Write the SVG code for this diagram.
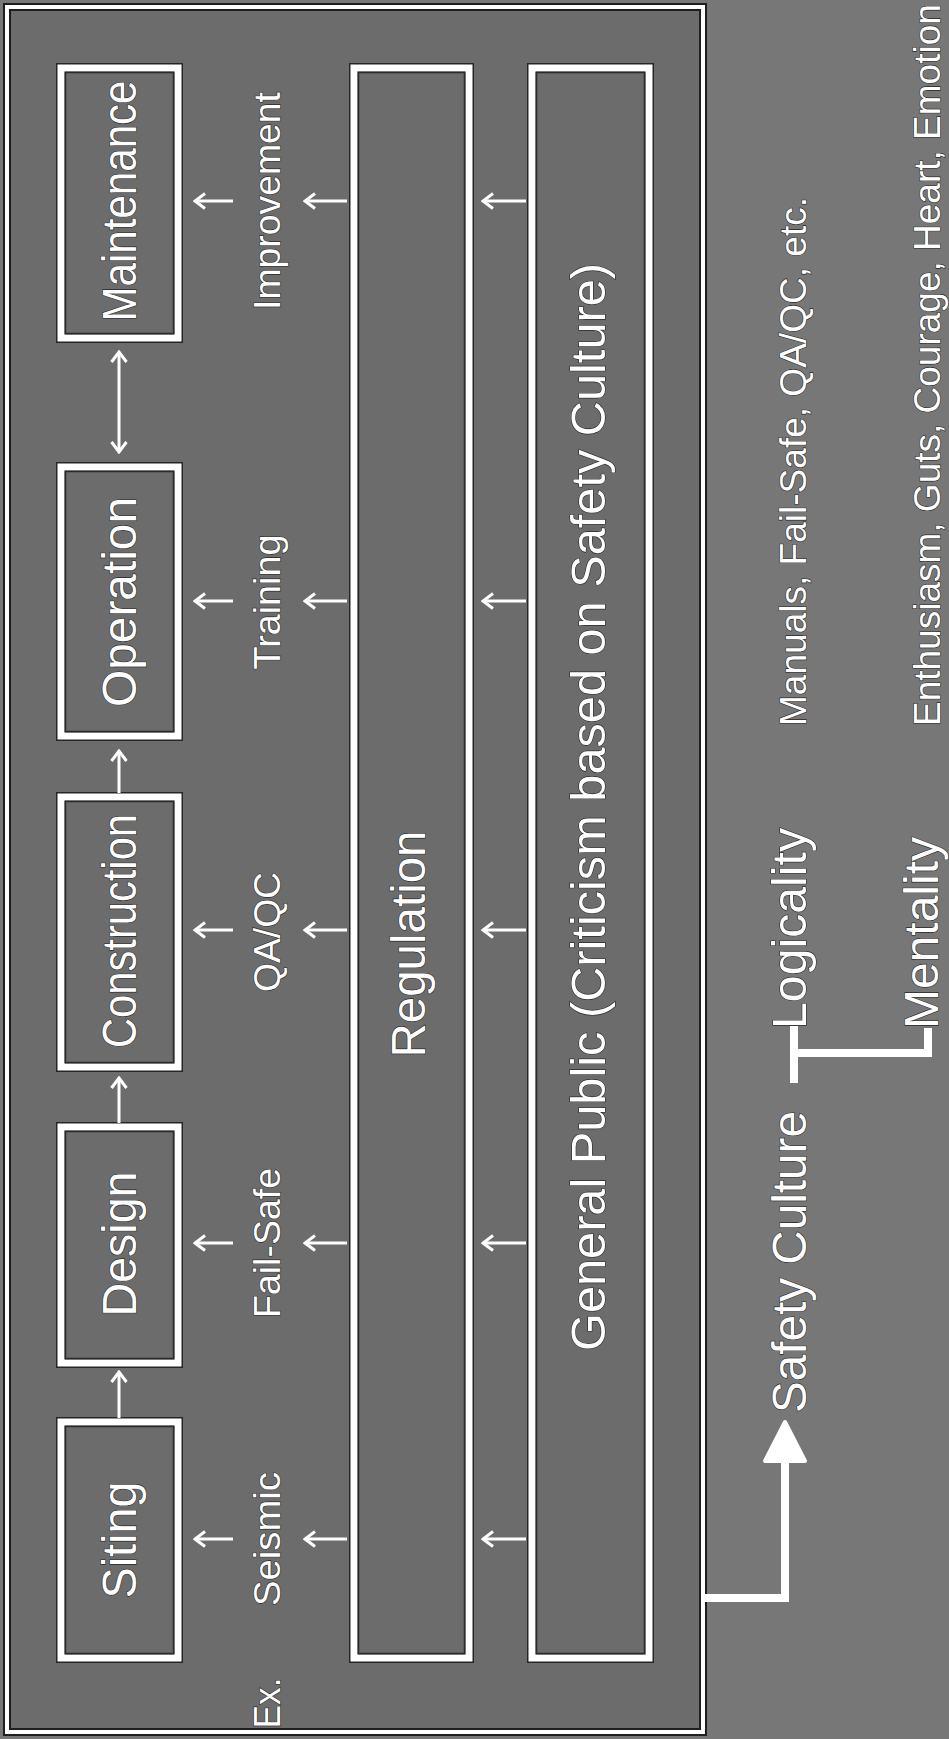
<svg xmlns="http://www.w3.org/2000/svg" width="949" height="1739" viewBox="0 0 949 1739">
<defs>
<style>
.bg{fill:#777777}
.panel{fill:#6c6c6c;stroke:#1e1e1e;stroke-width:8}
.panelw{fill:none;stroke:#ffffff;stroke-width:4}
.boxd{fill:#6c6c6c;stroke:#262626;stroke-width:10}
.boxw{fill:none;stroke:#ffffff;stroke-width:7}
.boxi{fill:none;stroke:#2a2a2a;stroke-width:1.5}
text{font-family:"Liberation Sans",Arial,Helvetica,sans-serif;fill:#ffffff;stroke:#2a2a2a;stroke-width:1.2;paint-order:stroke;text-anchor:middle}
.big{font-size:48px}
.lab{font-size:37.5px}
.rt{font-size:37px}
.arr{fill:none;stroke:#ffffff;stroke-width:3}
.thick{fill:none;stroke:#ffffff;stroke-width:8;stroke-linejoin:miter}
</style>
<marker id="ah" markerUnits="userSpaceOnUse" viewBox="0 0 14 18" markerWidth="14" markerHeight="18" refX="12" refY="9" orient="auto-start-reverse">
<path d="M2,1.5 L12,9 L2,16.5" fill="none" stroke="#ffffff" stroke-width="3"/>
</marker>
</defs>
<rect class="bg" x="0" y="0" width="949" height="1739"/>
<g id="panel">
<rect class="panel" x="7" y="7" width="696" height="1725"/>
<rect class="panelw" x="7" y="7" width="696" height="1725"/>
</g>
<g id="maintenance">
<rect class="boxd" x="61" y="68" width="117" height="270"/>
<rect class="boxw" x="61" y="68" width="117" height="270"/>
<rect class="boxi" x="65.5" y="72.5" width="108" height="261"/>
<text class="big" transform="translate(136,201) rotate(-90)" textLength="241" lengthAdjust="spacingAndGlyphs">Maintenance</text>
</g>
<g id="operation">
<rect class="boxd" x="61" y="467" width="117" height="269"/>
<rect class="boxw" x="61" y="467" width="117" height="269"/>
<rect class="boxi" x="65.5" y="471.5" width="108" height="260"/>
<text class="big" transform="translate(136,602) rotate(-90)" textLength="210" lengthAdjust="spacingAndGlyphs">Operation</text>
</g>
<g id="construction">
<rect class="boxd" x="61" y="797" width="117" height="270"/>
<rect class="boxw" x="61" y="797" width="117" height="270"/>
<rect class="boxi" x="65.5" y="801.5" width="108" height="261"/>
<text class="big" transform="translate(136,931) rotate(-90)" textLength="234" lengthAdjust="spacingAndGlyphs">Construction</text>
</g>
<g id="design">
<rect class="boxd" x="61" y="1127" width="117" height="236"/>
<rect class="boxw" x="61" y="1127" width="117" height="236"/>
<rect class="boxi" x="65.5" y="1131.5" width="108" height="227"/>
<text class="big" transform="translate(136,1244) rotate(-90)" textLength="145" lengthAdjust="spacingAndGlyphs">Design</text>
</g>
<g id="siting">
<rect class="boxd" x="61" y="1422" width="117" height="236"/>
<rect class="boxw" x="61" y="1422" width="117" height="236"/>
<rect class="boxi" x="65.5" y="1426.5" width="108" height="227"/>
<text class="big" transform="translate(136,1540) rotate(-90)" textLength="117" lengthAdjust="spacingAndGlyphs">Siting</text>
</g>
<g id="regulation">
<rect class="boxd" x="354" y="68" width="115" height="1590"/>
<rect class="boxw" x="354" y="68" width="115" height="1590"/>
<rect class="boxi" x="358.5" y="72.5" width="106" height="1581"/>
<text class="big" transform="translate(425,944) rotate(-90)" textLength="227" lengthAdjust="spacingAndGlyphs">Regulation</text>
</g>
<g id="general-public">
<rect class="boxd" x="532" y="68" width="117" height="1590"/>
<rect class="boxw" x="532" y="68" width="117" height="1590"/>
<rect class="boxi" x="536.5" y="72.5" width="108" height="1581"/>
<text class="big" transform="translate(605,807) rotate(-90)" textLength="1088" lengthAdjust="spacingAndGlyphs">General Public (Criticism based on Safety Culture)</text>
</g>
<g id="examples">
<text class="lab" transform="translate(280,201) rotate(-90)" textLength="218" lengthAdjust="spacingAndGlyphs">Improvement</text>
<text class="lab" transform="translate(280,602) rotate(-90)" textLength="135" lengthAdjust="spacingAndGlyphs">Training</text>
<text class="lab" transform="translate(280,932) rotate(-90)" textLength="120" lengthAdjust="spacingAndGlyphs">QA/QC</text>
<text class="lab" transform="translate(280,1243) rotate(-90)" textLength="150" lengthAdjust="spacingAndGlyphs">Fail-Safe</text>
<text class="lab" transform="translate(280,1539) rotate(-90)" textLength="134" lengthAdjust="spacingAndGlyphs">Seismic</text>
<text class="lab" transform="translate(280,1703) rotate(-90)" textLength="51" lengthAdjust="spacingAndGlyphs">Ex.</text>
</g>
<g id="safety-culture">
<text class="big" transform="translate(806,1262) rotate(-90)" textLength="302" lengthAdjust="spacingAndGlyphs">Safety Culture</text>
</g>
<g id="logicality">
<text class="big" transform="translate(806,928.5) rotate(-90)" textLength="201" lengthAdjust="spacingAndGlyphs">Logicality</text>
<text class="rt" transform="translate(806,461.5) rotate(-90)" textLength="529" lengthAdjust="spacingAndGlyphs">Manuals, Fail-Safe, QA/QC, etc.</text>
</g>
<g id="mentality">
<text class="big" transform="translate(938,933) rotate(-90)" textLength="192" lengthAdjust="spacingAndGlyphs">Mentality</text>
<text class="rt" transform="translate(940,726) rotate(-90)" style="text-anchor:start">Enthusiasm, Guts, Courage, Heart, Emotion</text>
</g>
<g id="connectors">
<path class="arr" d="M119,1418 V1372" marker-end="url(#ah)"/>
<path class="arr" d="M119,1123 V1078" marker-end="url(#ah)"/>
<path class="arr" d="M119,793 V751" marker-end="url(#ah)"/>
<path class="arr" d="M119,352 V452" marker-start="url(#ah)" marker-end="url(#ah)"/>
<path class="arr" d="M233,201 H195" marker-end="url(#ah)"/>
<path class="arr" d="M347,201 H305" marker-end="url(#ah)"/>
<path class="arr" d="M526,201 H483" marker-end="url(#ah)"/>
<path class="arr" d="M233,601 H195" marker-end="url(#ah)"/>
<path class="arr" d="M347,601 H305" marker-end="url(#ah)"/>
<path class="arr" d="M526,601 H483" marker-end="url(#ah)"/>
<path class="arr" d="M233,930 H195" marker-end="url(#ah)"/>
<path class="arr" d="M347,930 H305" marker-end="url(#ah)"/>
<path class="arr" d="M526,930 H483" marker-end="url(#ah)"/>
<path class="arr" d="M233,1243 H195" marker-end="url(#ah)"/>
<path class="arr" d="M347,1243 H305" marker-end="url(#ah)"/>
<path class="arr" d="M526,1243 H483" marker-end="url(#ah)"/>
<path class="arr" d="M233,1539 H195" marker-end="url(#ah)"/>
<path class="arr" d="M347,1539 H305" marker-end="url(#ah)"/>
<path class="arr" d="M526,1539 H483" marker-end="url(#ah)"/>
<path class="thick" d="M705,1598 H785 V1458"/>
<path d="M785,1422 L765,1461 L805,1461 Z" fill="#ffffff" stroke="#ffffff" stroke-width="4" stroke-linejoin="round"/>
<path class="thick" d="M794,1083 V1026"/>
<path class="thick" d="M794,1053 H928 V1028"/>
</g>
</svg>
